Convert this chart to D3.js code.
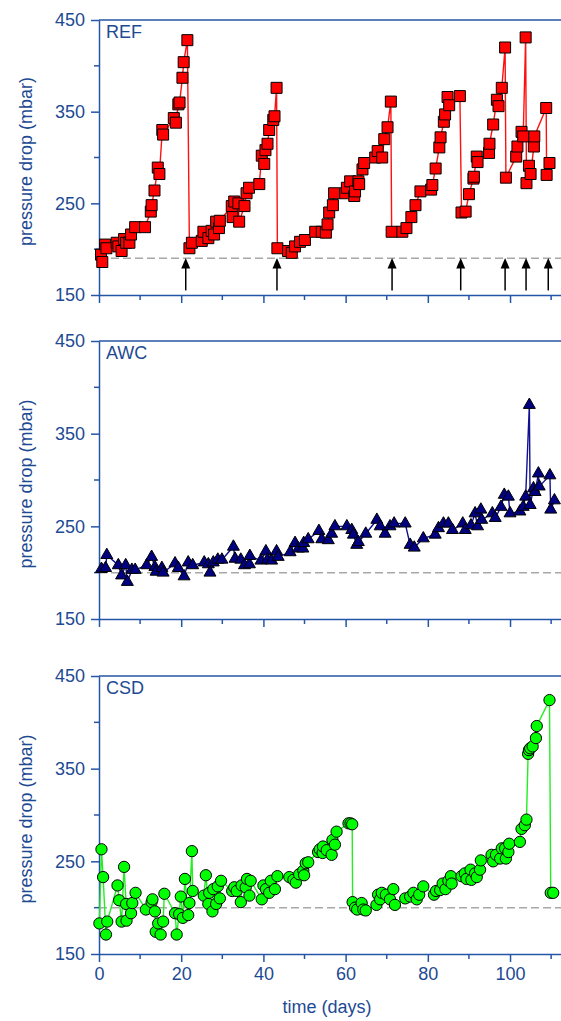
<!DOCTYPE html>
<html>
<head>
<meta charset="utf-8">
<script src="https://d3js.org/d3.v7.min.js"></script>
<style>
  body { margin: 0; background: #fff; }
  text { font-family: "Liberation Sans", Arial, sans-serif; }
</style>
</head>
<body>
<svg id="chart" width="561" height="1021"></svg>
<script>
// REF filter (squares)
const refDays = [0.5,0.8,1.5,1.8,4.3,4.7,5.5,6.1,6.6,7.4,7.8,8.8,11.2,12.6,12.8,13.5,14.3,14.7,15.4,15.6,18.2,18.7,19.3,19.6,20.3,20.6,21.5,
  22.0,22.6,25.0,25.4,26.6,27.4,28.0,28.5,29.2,29.4,32.3,32.5,32.9,33.9,34.1,35.4,35.9,36.5,39.0,39.6,40.2,40.5,41.0,41.4,42.4,42.7,43.2,
  43.4,46.0,46.9,47.7,48.9,50.1,52.6,54.2,55.2,55.6,56.0,56.9,57.2,59.9,60.3,61.1,62.1,62.3,63.1,63.3,64.1,64.5,67.2,67.8,68.9,69.4,70.2,71.0,
  71.2,73.8,74.8,76.0,77.0,78.2,80.8,81.1,81.9,82.8,83.1,83.9,84.2,84.8,85.2,87.8,
  88.2,89.2,90.0,91.1,91.2,91.9,92.1,94.9,95.0,95.9,96.8,97.2,98.0,98.8,
  99.0,101.5,101.8,102.8,103.2,103.8,104.0,104.6,105.0,105.8,105.9,108.8,108.9,109.6];
const refVals = [194,186,205,201,207,203,198,211,207,207,216,224,224,241,248,264,289,282,330,325,343,338,358,360,387,404,428,
  201,207,209,219,212,220,216,230,223,231,247,235,252,250,230,247,261,267,271,302,293,308,315,330,341,345,376,
  201,198,196,203,208,210,219,219,218,227,240,248,261,261,267,274,258,263,274,271,287,294,300,307,300,320,333,361,
  219,219,223,235,248,263,265,270,288,311,322,339,347,366,357,367,
  240,241,260,277,279,301,295,305,315,336,363,356,376,420,
  278,301,312,328,323,431,272,291,282,312,323,354,281,294];

// AWC filter (triangles)
const awcDays = [0.6,1.6,1.9,4.7,5.5,6.5,6.9,8.0,8.8,11.6,12.8,13.6,13.9,15.3,15.6,18.5,19.3,20.7,21.7,22.8,25.6,26.6,27.0,27.8,28.9,29.9,
  32.7,33.1,34.5,35.4,36.6,36.7,39.4,40.6,41.0,42.0,43.2,43.6,46.5,47.7,48.5,49.6,49.8,50.9,53.5,54.2,55.8,56.6,57.4,60.3,61.5,61.9,62.7,63.1,
  64.9,67.6,68.4,69.6,70.8,71.8,74.5,75.7,76.7,78.9,81.8,82.6,83.8,85.0,86.0,88.5,89.1,90.5,91.5,92.1,92.9,93.1,95.7,96.4,97.8,98.6,99.6,100.0,
  102.4,103.2,103.8,104.7,104.9,105.7,106.1,106.9,107.1,109.7,109.9,110.8];
const awcVals = [204,205,219,208,197,208,190,203,203,208,217,206,201,205,200,210,205,196,211,208,211,209,200,211,214,214,
  228,215,214,208,209,218,213,223,214,213,223,217,222,232,226,226,232,236,245,236,235,242,250,250,246,241,230,233,
  242,257,250,242,250,253,253,230,227,237,241,248,253,253,246,253,246,251,264,250,268,257,264,259,271,284,282,264,
  266,271,282,381,273,291,287,307,293,305,268,278];

// CSD filter (circles)
const csdDays = [0.1,0.6,1.0,1.7,2.0,4.5,4.9,5.5,6.1,6.6,6.7,7.8,8.1,8.9,11.4,12.8,13.0,13.6,13.8,14.4,15.0,15.6,15.9,18.5,18.9,19.5,19.9,20.4,
  20.9,21.7,22.0,22.6,22.8,25.5,26.0,26.6,26.8,27.6,27.8,28.5,28.9,29.4,29.7,32.4,32.9,33.5,34.5,34.7,35.7,36.0,36.6,36.9,39.6,40.0,40.6,41.4,
  41.8,42.8,43.4,46.3,47.3,47.9,48.7,49.7,49.9,50.3,50.9,53.3,53.7,54.4,54.5,55.4,56.6,56.8,57.4,57.8,60.7,61.2,61.6,
  61.7,62.3,62.8,63.9,64.3,64.9,67.5,67.9,68.4,68.8,69.8,70.8,71.6,72.0,74.5,75.7,76.5,77.3,77.9,78.9,81.5,82.0,83.0,83.6,84.3,85.0,85.6,85.8,
  88.2,89.0,89.4,90.4,90.6,91.5,91.9,92.7,92.9,95.5,95.9,96.6,97.6,98.0,98.8,99.0,99.6,99.8,102.4,102.8,103.6,104.0,104.4,104.6,104.9,105.5,
  106.3,106.5,109.6,109.9,110.5];
const csdVals = [183,263,233,171,185,224,208,185,244,204,186,194,205,216,198,206,209,196,174,183,171,185,215,194,171,193,212,189,
  231,192,205,261,218,213,235,204,216,196,220,204,223,210,229,218,222,218,206,224,222,231,213,229,209,224,220,216,
  229,220,234,233,230,227,236,240,235,248,249,260,263,259,266,262,257,273,268,282,291,291,290,
  206,200,198,205,198,197,203,214,209,216,214,209,220,203,210,212,216,209,214,223,214,218,219,226,220,229,234,226,
  234,237,231,241,230,237,233,241,251,257,250,257,253,264,264,253,260,269,271,285,289,295,366,370,372,374,
  383,396,424,216,216];

// backwash / cleaning arrows on the REF panel (days)
const refArrows = [21.1, 43.3, 71.3, 88.0, 98.8, 103.9, 109.3];

const yMajor = [150, 250, 350, 450];
const yMinor = [200, 300, 400];
const xMajor = [0, 20, 40, 60, 80, 100];
const xMinor = [10, 30, 50, 70, 90, 110];

const axisColor = "#2456a6";
const textColor = "#1d4a93";

const svg = d3.select("#chart");
const x = d3.scaleLinear().domain([0, 112.4]).range([99, 561]);

const panels = [
  {name: "REF", days: refDays, vals: refVals, top: 20, bottom: 295, base: 190,
   fill: "#ff0000", line: "#ff1010", sym: d3.symbolSquare, size: 121},
  {name: "AWC", days: awcDays, vals: awcVals, top: 341, bottom: 619, base: 200,
   fill: "#000080", line: "#101090", sym: d3.symbolTriangle, size: 62},
  {name: "CSD", days: csdDays, vals: csdVals, top: 676, bottom: 954, base: 200,
   fill: "#00ff00", line: "#22ee22", sym: d3.symbolCircle, size: 100}
];

panels.forEach((p, i) => {
  const y = d3.scaleLinear().domain([150, 450]).range([p.bottom, p.top]);
  const g = svg.append("g");

  // dashed baseline
  g.append("line")
    .attr("x1", x(0)).attr("x2", x(112.4))
    .attr("y1", y(p.base)).attr("y2", y(p.base))
    .attr("stroke", "#a8a8a8").attr("stroke-width", 1.5)
    .attr("stroke-dasharray", "8,4");

  // frame: top line
  g.append("line")
    .attr("x1", x(0)).attr("x2", 561)
    .attr("y1", p.top).attr("y2", p.top)
    .attr("stroke", axisColor).attr("stroke-width", 1.5);

  // y axis
  const ya = g.append("g").attr("transform", `translate(${x(0)},0)`)
    .call(d3.axisLeft(y).tickValues(yMajor).tickSize(8).tickSizeOuter(0).tickPadding(6));
  ya.selectAll("line.minor").data(yMinor).join("line")
    .attr("x1", -5).attr("x2", 0).attr("y1", d => y(d)).attr("y2", d => y(d));

  // x axis
  const xa = g.append("g").attr("transform", `translate(0,${p.bottom})`)
    .call(d3.axisBottom(x).tickValues(xMajor).tickSize(8).tickSizeOuter(0).tickPadding(5));
  xa.selectAll("line.minor").data(xMinor).join("line")
    .attr("x1", d => x(d)).attr("x2", d => x(d)).attr("y1", 0).attr("y2", 5);
  if (i < 2) xa.selectAll(".tick text").remove();

  [ya, xa].forEach(a => {
    a.select(".domain").attr("stroke", axisColor).attr("stroke-width", 1.5);
    a.selectAll("line").attr("stroke", axisColor).attr("stroke-width", 1.5);
    a.selectAll("text").attr("fill", textColor).style("font-size", "18px")
      .style("font-family", "'Liberation Sans', Arial, sans-serif");
  });

  // y title
  g.append("text")
    .attr("transform", `translate(32,${(p.top + p.bottom) / 2 + 4}) rotate(-90)`)
    .attr("text-anchor", "middle")
    .attr("fill", textColor).style("font-size", "18px")
    .text("pressure drop (mbar)");

  // panel label
  g.append("text").attr("x", 106).attr("y", p.top + 18)
    .attr("fill", textColor).style("font-size", "18px").text(p.name);

  const pts = p.days.map((d, k) => [d, p.vals[k]]);

  g.append("path").datum(pts)
    .attr("fill", "none").attr("stroke", p.line).attr("stroke-width", 1.4)
    .attr("d", d3.line().x(d => x(d[0])).y(d => y(d[1])));

  g.selectAll("path.mk").data(pts).join("path")
    .attr("class", "mk")
    .attr("transform", d => `translate(${x(d[0])},${y(d[1])})`)
    .attr("d", d3.symbol().type(p.sym).size(p.size))
    .attr("fill", p.fill).attr("stroke", "#000").attr("stroke-width", 1);

  if (p.name === "REF") {
    const ag = g.append("g");
    ag.selectAll("line").data(refArrows).join("line")
      .attr("x1", d => x(d)).attr("x2", d => x(d))
      .attr("y1", y(155)).attr("y2", y(182))
      .attr("stroke", "#000").attr("stroke-width", 1.5);
    ag.selectAll("path").data(refArrows).join("path")
      .attr("d", d => `M${x(d)},${y(190.5)} L${x(d) - 4.5},${y(179)} L${x(d) + 4.5},${y(179)} Z`)
      .attr("fill", "#000");
  }
});

// x title
svg.append("text").attr("x", 327).attr("y", 1013)
  .attr("text-anchor", "middle").attr("fill", textColor)
  .style("font-size", "18px").text("time (days)");
</script>
</body>
</html>
